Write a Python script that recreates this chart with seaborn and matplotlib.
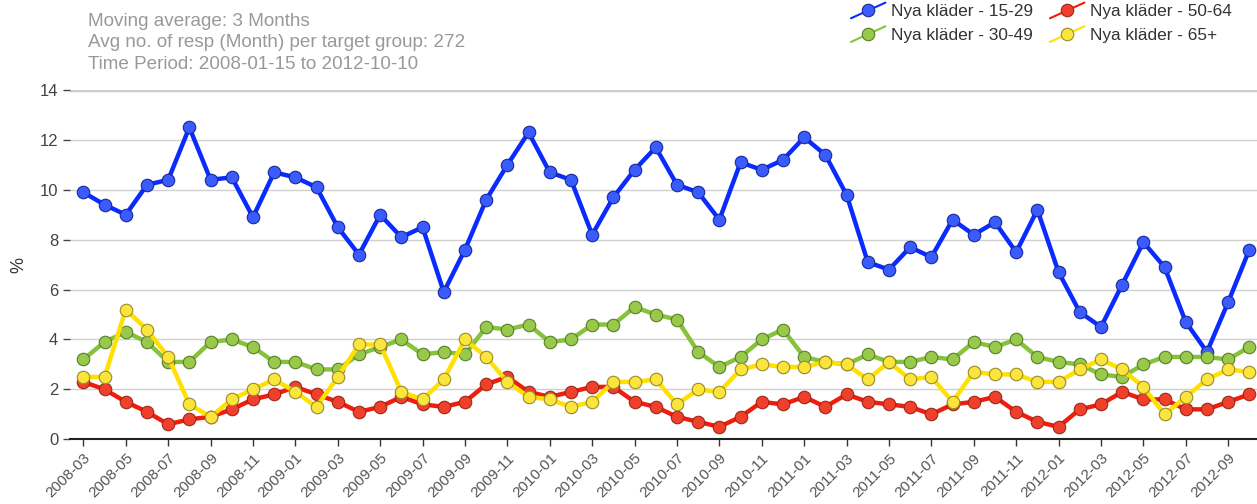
import pandas as pd
import numpy as np
import seaborn as sns
import matplotlib.pyplot as plt
from matplotlib.lines import Line2D
from matplotlib.legend_handler import HandlerLine2D

# Monate (2008-03 bis 2012-10)
monate = pd.period_range("2008-03", "2012-10", freq="M").strftime("%Y-%m").tolist()

# Werte in %
werte_15_29 = [9.9, 9.4, 9.0, 10.2, 10.4, 12.5, 10.4, 10.5, 8.9, 10.7,
               10.5, 10.1, 8.5, 7.4, 9.0, 8.1, 8.5, 5.9, 7.6, 9.6,
               11.0, 12.3, 10.7, 10.4, 8.2, 9.7, 10.8, 11.7, 10.2, 9.9,
               8.8, 11.1, 10.8, 11.2, 12.1, 11.4, 9.8, 7.1, 6.8, 7.7,
               7.3, 8.8, 8.2, 8.7, 7.5, 9.2, 6.7, 5.1, 4.5, 6.2,
               7.9, 6.9, 4.7, 3.5, 5.5, 7.6]
werte_30_49 = [3.2, 3.9, 4.3, 3.9, 3.1, 3.1, 3.9, 4.0, 3.7, 3.1,
               3.1, 2.8, 2.8, 3.4, 3.7, 4.0, 3.4, 3.5, 3.4, 4.5,
               4.4, 4.6, 3.9, 4.0, 4.6, 4.6, 5.3, 5.0, 4.8, 3.5,
               2.9, 3.3, 4.0, 4.4, 3.3, 3.1, 3.0, 3.4, 3.1, 3.1,
               3.3, 3.2, 3.9, 3.7, 4.0, 3.3, 3.1, 3.0, 2.6, 2.5,
               3.0, 3.3, 3.3, 3.3, 3.2, 3.7]
werte_50_64 = [2.3, 2.0, 1.5, 1.1, 0.6, 0.8, 0.9, 1.2, 1.6, 1.8,
               2.1, 1.8, 1.5, 1.1, 1.3, 1.7, 1.4, 1.3, 1.5, 2.2,
               2.5, 1.9, 1.7, 1.9, 2.1, 2.1, 1.5, 1.3, 0.9, 0.7,
               0.5, 0.9, 1.5, 1.4, 1.7, 1.3, 1.8, 1.5, 1.4, 1.3,
               1.0, 1.4, 1.5, 1.7, 1.1, 0.7, 0.5, 1.2, 1.4, 1.9,
               1.6, 1.6, 1.2, 1.2, 1.5, 1.8]
werte_65 = [2.5, 2.5, 5.2, 4.4, 3.3, 1.4, 0.9, 1.6, 2.0, 2.4,
            1.9, 1.3, 2.5, 3.8, 3.8, 1.9, 1.6, 2.4, 4.0, 3.3,
            2.3, 1.7, 1.6, 1.3, 1.5, 2.3, 2.3, 2.4, 1.4, 2.0,
            1.9, 2.8, 3.0, 2.9, 2.9, 3.1, 3.0, 2.4, 3.1, 2.4,
            2.5, 1.5, 2.7, 2.6, 2.6, 2.3, 2.3, 2.8, 3.2, 2.8,
            2.1, 1.0, 1.7, 2.4, 2.8, 2.7]

serien = {
    "Nya kläder - 15-29": werte_15_29,
    "Nya kläder - 30-49": werte_30_49,
    "Nya kläder - 50-64": werte_50_64,
    "Nya kläder - 65+": werte_65,
}
# Farben: Linie, Markerfüllung, Markerrand
farben = {
    "Nya kläder - 15-29": ("#0a2bff", "#3a5cff", "#1a2a99"),
    "Nya kläder - 30-49": ("#86c23c", "#98c94a", "#5a7f2a"),
    "Nya kläder - 50-64": ("#f01c0c", "#f0402c", "#9a2a1a"),
    "Nya kläder - 65+": ("#ffe000", "#fbe43c", "#9a8a2a"),
}
zeichen_reihenfolge = ["Nya kläder - 15-29", "Nya kläder - 50-64",
                       "Nya kläder - 30-49", "Nya kläder - 65+"]


# Legenden-Symbol: schräge Linie mit Marker in der Mitte
class SchraegHandler(HandlerLine2D):
    def create_artists(self, legend, orig_handle, xdescent, ydescent,
                       width, height, fontsize, trans):
        x0, x1 = -xdescent, width - xdescent
        y0, y1 = -ydescent - 0.15 * height, height - ydescent + 0.15 * height
        linie = Line2D([x0, x1], [y0, y1], color=orig_handle.get_color(),
                       linewidth=1.5, transform=trans)
        punkt = Line2D([(x0 + x1) / 2], [(y0 + y1) / 2], linestyle="",
                       marker="o", markersize=9,
                       markerfacecolor=orig_handle.get_markerfacecolor(),
                       markeredgecolor=orig_handle.get_markeredgecolor(),
                       markeredgewidth=0.8, transform=trans)
        return [linie, punkt]


df = pd.DataFrame({"idx": np.arange(len(monate)), "Monat": monate})

sns.set_style("white")
plt.rcParams['font.family'] = ['Liberation Sans', 'DejaVu Sans']

fig = plt.figure(figsize=(12.57, 5.04), dpi=100)
ax = fig.add_axes([0.0557, 0.1284, 0.9443, 0.6930])

linien = {}
for name in zeichen_reihenfolge:
    lc, fc, ec = farben[name]
    sns.lineplot(x=df["idx"], y=serien[name], ax=ax, color=lc, linewidth=3.2,
                 marker="o", markersize=9, markerfacecolor=fc,
                 markeredgecolor=ec, markeredgewidth=0.8, label=name)
    linien[name] = ax.get_lines()[-1]

ax.set_xlim(-0.63, 55.36)
ax.set_ylim(0, 14)
ax.set_yticks(range(0, 15, 2))
ax.yaxis.grid(True, color="#d0d0d0", linewidth=1)
ax.set_axisbelow(True)
ax.axhline(14, color="#c8c8c8", linewidth=2.5, zorder=0)

ax.set_xticks(df["idx"][::2])
ax.set_xticklabels(df["Monat"][::2], rotation=45, ha="right",
                   rotation_mode="anchor", color="#555555", fontsize=11)
ax.tick_params(axis="y", labelcolor="#444444", labelsize=12, length=5,
               left=True, color="#444444", width=1)
ax.tick_params(axis="x", length=5, bottom=True, color="#333333", width=1)
ax.set_xlabel("")
ax.set_ylabel("%", fontsize=13, color="#333333", labelpad=9)

for s in ["top", "right", "left"]:
    ax.spines[s].set_visible(False)
ax.spines["bottom"].set_color("#222222")
ax.spines["bottom"].set_linewidth(1.5)

# Legende oben rechts, zwei Spalten
reihenfolge = list(serien.keys())
ax.legend([linien[n] for n in reihenfolge], reihenfolge, ncol=2,
          loc="upper right", bbox_to_anchor=(0.992, 1.022),
          bbox_transform=fig.transFigure, frameon=False, fontsize=12.4,
          handlelength=2.0, columnspacing=1.0, labelspacing=0.5,
          handletextpad=0.3, labelcolor="#333333",
          handler_map={Line2D: SchraegHandler()})

# Infotext oben links
info = ("Moving average: 3 Months\n"
        "Avg no. of resp (Month) per target group: 272\n"
        "Time Period: 2008-01-15 to 2012-10-10")
fig.text(0.070, 0.975, info, ha="left", va="top", fontsize=13.6,
         color="#999999", linespacing=1.36)

plt.savefig("out.png", dpi=100)
